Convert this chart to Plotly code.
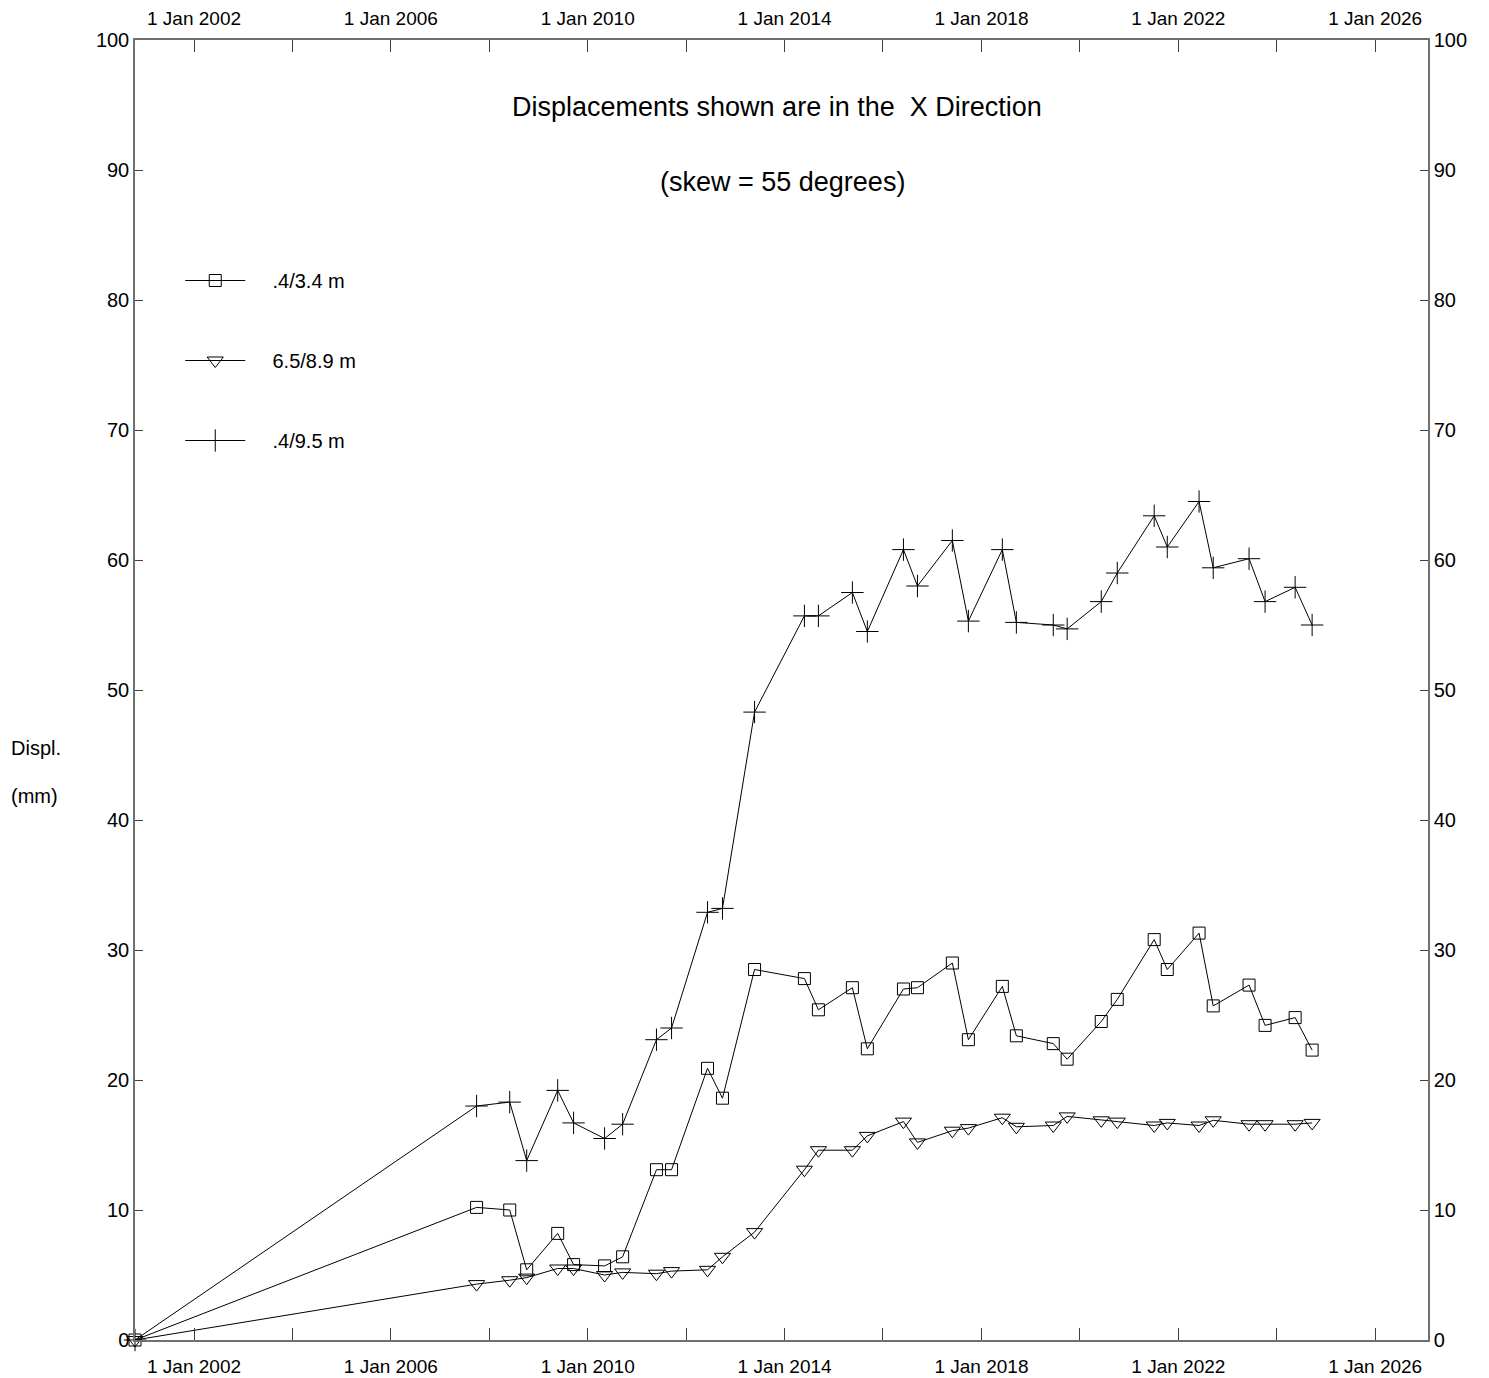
import plotly.graph_objects as go

dates = ["2000-10-20", "2007-09-29", "2008-06-01", "2008-10-05", "2009-05-23", "2009-09-18",
         "2010-05-06", "2010-09-17", "2011-05-26", "2011-09-15", "2012-06-08", "2012-09-27",
         "2013-05-23", "2014-05-28", "2014-09-09", "2015-05-19", "2015-09-07", "2016-06-01",
         "2016-09-13", "2017-05-30", "2017-09-26", "2018-06-05", "2018-09-17", "2019-06-18",
         "2019-09-29", "2020-06-08", "2020-10-05", "2021-07-06", "2021-10-11", "2022-06-04",
         "2022-09-17", "2023-06-10", "2023-10-07", "2024-05-17", "2024-09-20"]

disp_04_34 = [0, 10.2, 10.0, 5.4, 8.2, 5.8, 5.7, 6.4, 13.1, 13.1, 20.9, 18.6, 28.5, 27.8, 25.4,
              27.1, 22.4, 27.0, 27.1, 29.0, 23.1, 27.2, 23.4, 22.8, 21.6, 24.5, 26.2, 30.8,
              28.5, 31.3, 25.7, 27.3, 24.2, 24.8, 22.3]
disp_65_89 = [0, 4.3, 4.6, 4.8, 5.5, 5.5, 5.0, 5.2, 5.1, 5.3, 5.4, 6.4, 8.3, 13.1, 14.6, 14.6,
              15.7, 16.8, 15.2, 16.1, 16.3, 17.1, 16.4, 16.5, 17.2, 16.9, 16.8, 16.5, 16.7,
              16.5, 16.9, 16.6, 16.6, 16.6, 16.7]
disp_04_95 = [0, 18.0, 18.3, 13.8, 19.2, 16.7, 15.5, 16.6, 23.1, 24.0, 32.9, 33.2, 48.3, 55.7,
              55.7, 57.5, 54.5, 60.8, 58.0, 61.5, 55.3, 60.8, 55.2, 55.0, 54.7, 56.8, 59.0,
              63.4, 61.0, 64.5, 59.4, 60.1, 56.8, 57.9, 55.0]

series_names = [".4/3.4 m", "6.5/8.9 m", ".4/9.5 m"]
series_symbols = ["square-open", "triangle-down-open", "cross-thin-open"]
series_sizes = [12, 14, 16]

x_tickvals = ["2002-01-01", "2004-01-01", "2006-01-01", "2008-01-01", "2010-01-01",
              "2012-01-01", "2014-01-01", "2016-01-01", "2018-01-01", "2020-01-01",
              "2022-01-01", "2024-01-01", "2026-01-01"]
x_ticktext = ["1 Jan 2002", "", "1 Jan 2006", "", "1 Jan 2010", "", "1 Jan 2014", "",
              "1 Jan 2018", "", "1 Jan 2022", "", "1 Jan 2026"]
x_range = ["2000-10-20", "2027-01-28"]
y_tickvals = [0, 10, 20, 30, 40, 50, 60, 70, 80, 90, 100]

FONT = "Liberation Sans, Arial, sans-serif"
PAD = "\u00a0" * 4

fig = go.Figure()
for i, (name, vals) in enumerate(zip(series_names, [disp_04_34, disp_65_89, disp_04_95])):
    fig.add_trace(go.Scatter(
        x=dates, y=vals, name=PAD + name, mode="lines+markers", legendgroup=f"g{i}",
        line=dict(color="black", width=1),
        marker=dict(symbol=series_symbols[i], size=series_sizes[i], color="black",
                    line=dict(color="black", width=1)),
        cliponaxis=False,
    ))

axis_common = dict(showgrid=False, zeroline=False, showline=True, linecolor="#707070",
                   linewidth=1.5, ticks="inside", tickcolor="#404040", tickwidth=1,
                   automargin=False)

fig.update_layout(
    width=1489, height=1378,
    margin=dict(l=135, r=61, t=40, b=38, autoexpand=False),
    paper_bgcolor="white", plot_bgcolor="white",
    font=dict(family=FONT, size=20, color="black"),
    showlegend=True,
    legend=dict(x=0.035, y=0.83, xanchor="left", yanchor="top", bgcolor="rgba(0,0,0,0)",
                font=dict(family=FONT, size=20), itemwidth=60, tracegroupgap=51,
                traceorder="grouped"),
    xaxis=dict(type="date", range=x_range, tickvals=x_tickvals, ticktext=x_ticktext,
               ticklen=12, ticklabelstandoff=8,
               tickfont=dict(family=FONT, size=19, color="black"), **axis_common),
    xaxis2=dict(type="date", range=x_range, tickvals=x_tickvals, ticktext=x_ticktext,
                ticklen=12, overlaying="x", side="top", anchor="y", matches="x",
                ticklabelstandoff=6,
                tickfont=dict(family=FONT, size=19, color="black"), **axis_common),
    yaxis=dict(range=[0, 100], tickvals=y_tickvals, ticklen=8,
               tickfont=dict(family=FONT, size=20, color="black"), **axis_common),
    yaxis2=dict(range=[0, 100], tickvals=y_tickvals, ticklen=8, overlaying="y",
                side="right", anchor="x", matches="y",
                tickfont=dict(family=FONT, size=20, color="black"), **axis_common),
    annotations=[
        dict(text="Displacements shown are in the  X Direction", x=0.4965, y=0.9485,
             xref="paper", yref="paper", showarrow=False, font=dict(size=27),
             xanchor="center", yanchor="middle"),
        dict(text="(skew = 55 degrees)", x=0.5008, y=0.8908, xref="paper", yref="paper",
             showarrow=False, font=dict(size=27), xanchor="center", yanchor="middle"),
        dict(text="Displ.", x=-0.0974, y=0.4554, xref="paper", yref="paper",
             showarrow=False, font=dict(size=20), xanchor="left", yanchor="middle"),
        dict(text="(mm)", x=-0.0974, y=0.4185, xref="paper", yref="paper",
             showarrow=False, font=dict(size=20), xanchor="left", yanchor="middle"),
    ],
)

# invisible trace to activate the mirrored top / right axes
fig.add_trace(go.Scatter(x=[dates[0]], y=[disp_04_34[0]], xaxis="x2", yaxis="y2",
                         mode="markers", marker=dict(opacity=0), showlegend=False,
                         hoverinfo="skip"))

fig.write_html("out.html", config={"displayModeBar": False},
               post_script="document.body.style.margin='0';")
